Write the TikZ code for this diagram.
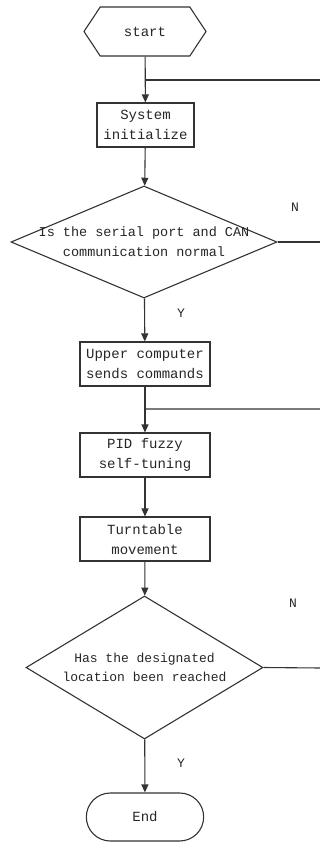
\documentclass[tikz,border=0pt]{standalone}
\usepackage{fontspec}
\setmonofont{Liberation Mono}
\usetikzlibrary{arrows.meta,shapes.geometric,shapes.symbols,shapes.misc}
\begin{document}
\begin{tikzpicture}[x=1pt,y=-1pt,
    line width=1.1pt,draw=black!80,
    font=\ttfamily\fontsize{14}{20}\selectfont,text=black!85,
    flowarrow/.style={-{Triangle[length=8pt,width=7pt]}},
    procbox/.style={draw,rectangle,minimum width=130pt,minimum height=44pt,inner sep=0pt,align=center},
    decision/.style={draw,diamond,inner sep=0pt},
    yesno/.style={font=\ttfamily\fontsize{13}{13}\selectfont}]

                        % Fix the page size
                        \useasboundingbox (0,0) rectangle (320,843);

                        % Define the flowchart nodes
                        \node[draw,signal,signal to=west and east,signal pointer angle=113,
                              minimum width=122pt,minimum height=49pt] (start) at (145,31.5) {start};
                        \node[procbox,minimum width=97pt] (init) at (145.5,125) {System\\initialize};
                        \node[decision,minimum width=266pt,minimum height=112pt,
                              label={[align=center,font=\ttfamily\fontsize{13.5}{20}\selectfont]center:Is the serial port and CAN\\communication normal}] (check) at (144,242) {};
                        \node[procbox] (upper) at (145,364) {Upper computer\\sends commands};
                        \node[procbox] (pid) at (145,455) {PID fuzzy\\self-tuning};
                        \node[procbox] (turn) at (145,539) {Turntable\\movement};
                        \node[decision,minimum width=237pt,minimum height=143pt,
                              label={[align=center,font=\ttfamily\fontsize{13}{19}\selectfont]center:Has the designated\\location been reached}] (reach) at (144.5,667.5) {};
                        \node[draw,rounded rectangle,minimum width=124pt,minimum height=48pt] (stop) at (145,817) {End};

                        % Define the loop corners (just past the right edge)
                        \coordinate (backA) at (145,80);
                        \coordinate (cornerA) at (321,80);
                        \coordinate (exitA) at (321,242);
                        \coordinate (backB) at (145,409);
                        \coordinate (cornerB) at (321,409);
                        \coordinate (exitB) at (321,668);

                        % Draw main flow
                        \draw[flowarrow] (start) -- (init);
                        \draw[flowarrow] (init) -- (check);
                        \draw[flowarrow] (check) -- (upper);
                        \draw[flowarrow] (upper) -- (pid);
                        \draw[flowarrow] (pid) -- (turn);
                        \draw[flowarrow] (turn) -- (reach);
                        \draw[flowarrow] (reach) -- (stop);

                        % Draw the N loops
                        \draw (check.east) -- (exitA) -- (cornerA) -- (backA);
                        \draw (reach.east) -- (exitB) -- (cornerB) -- (backB);

                        % Branch labels
                        \node[yesno] (nA) at (295,207) {N};
                        \node[yesno] (yA) at (181,313) {Y};
                        \node[yesno] (nB) at (293,603) {N};
                        \node[yesno] (yB) at (181,763) {Y};

\end{tikzpicture}
\end{document}
